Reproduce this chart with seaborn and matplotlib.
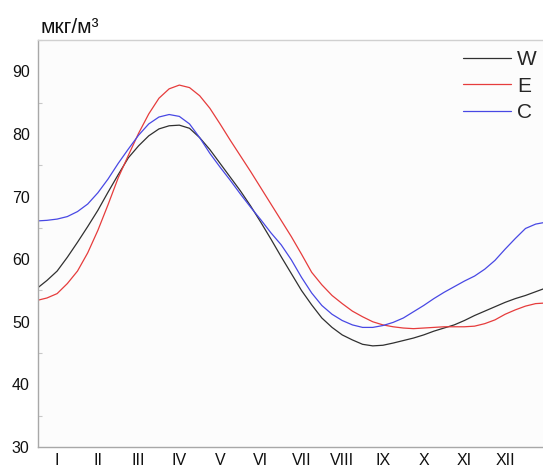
import numpy as np
import pandas as pd
import seaborn as sns
import matplotlib.pyplot as plt
from matplotlib.ticker import MultipleLocator

# month positions (quarter-month steps) and values
months = [0.5, 0.75, 1.0, 1.25, 1.5, 1.75, 2.0, 2.25, 2.5, 2.75, 3.0, 3.25, 3.5, 3.75,
          4.0, 4.25, 4.5, 4.75, 5.0, 5.25, 5.5, 5.75, 6.0, 6.25, 6.5, 6.75,
          7.0, 7.25, 7.5, 7.75, 8.0, 8.25, 8.5, 8.75, 9.0, 9.25, 9.5, 9.75,
          10.0, 10.25, 10.5, 10.75, 11.0, 11.25, 11.5, 11.75, 12.0, 12.25, 12.5, 12.75, 13.0]
w_vals = [55.3, 56.6, 58.1, 60.3, 62.7, 65.2, 67.8, 70.7, 73.5, 76.2, 78.1, 79.7, 80.8, 81.3,
          81.4, 80.9, 79.4, 77.5, 75.3, 73.1, 70.9, 68.5, 65.9, 63.2, 60.4, 57.7,
          55.0, 52.7, 50.6, 49.1, 47.9, 47.1, 46.4, 46.15, 46.25, 46.6, 47.0, 47.4,
          47.9, 48.5, 49.0, 49.5, 50.2, 51.0, 51.7, 52.4, 53.1, 53.7, 54.2, 54.8, 55.4]
e_vals = [53.4, 53.8, 54.5, 56.1, 58.1, 61.0, 64.6, 68.7, 73.0, 76.6, 80.1, 83.2, 85.7, 87.2,
          87.8, 87.4, 86.1, 84.1, 81.6, 79.0, 76.5, 74.0, 71.4, 68.8, 66.2, 63.6,
          60.8, 57.9, 55.9, 54.2, 52.9, 51.7, 50.8, 50.0, 49.5, 49.2, 49.0, 48.9,
          49.0, 49.1, 49.2, 49.2, 49.2, 49.3, 49.7, 50.3, 51.2, 51.9, 52.5, 52.9, 53.0]
c_vals = [66.1, 66.2, 66.4, 66.8, 67.6, 68.8, 70.6, 72.8, 75.3, 77.6, 79.8, 81.6, 82.7, 83.1,
          82.8, 81.6, 79.4, 76.9, 74.7, 72.6, 70.4, 68.3, 66.3, 64.2, 62.3, 59.9,
          57.1, 54.6, 52.6, 51.2, 50.2, 49.5, 49.1, 49.1, 49.4, 49.9, 50.6, 51.6,
          52.6, 53.7, 54.7, 55.6, 56.5, 57.3, 58.4, 59.8, 61.6, 63.3, 64.9, 65.6, 65.9]
series_names = ['W', 'E', 'C']
tick_positions = list(range(1, 13))
tick_labels = ['I', 'II', 'III', 'IV', 'V', 'VI', 'VII', 'VIII', 'IX', 'X', 'XI', 'XII']
colors = {'W': '#303030', 'E': '#e63c3c', 'C': '#4848e4'}

df = pd.DataFrame({
    'month': months * 3,
    'value': w_vals + e_vals + c_vals,
    'series': ['W'] * len(months) + ['E'] * len(months) + ['C'] * len(months),
})

sns.set_theme(style='white')
plt.rcParams['font.family'] = ['Liberation Sans', 'DejaVu Sans']

fig = plt.figure(figsize=(5.43, 4.70), dpi=100)
fig.patch.set_facecolor('white')
ax = fig.add_axes([38 / 543, 23 / 470, 505 / 543, 407 / 470])
ax.set_facecolor('#fcfcfc')

sns.lineplot(data=df, x='month', y='value', hue='series', hue_order=series_names,
             palette=colors, estimator=None, linewidth=0.9, ax=ax, legend=True)

ax.set_xlim(0.53, 12.93)
ax.set_ylim(30, 95)
ax.set_xticks(tick_positions)
ax.set_xticklabels(tick_labels)
ax.yaxis.set_major_locator(MultipleLocator(10))
ax.yaxis.set_minor_locator(MultipleLocator(5))
ax.set_yticks([30, 40, 50, 60, 70, 80, 90])
ax.set_xlabel('')
ax.set_ylabel('')

ax.tick_params(axis='both', which='major', direction='in', length=5, width=0.8,
               color='#b8b8b8', labelsize=11.5, labelcolor='#111111')
ax.tick_params(axis='x', which='major', pad=4)
ax.tick_params(axis='y', which='major', pad=6)
ax.tick_params(axis='y', which='minor', direction='in', length=3, width=0.8, color='#c8c8c8', left=True)

for s in ['left', 'bottom']:
    ax.spines[s].set_color('#a8a8a8')
    ax.spines[s].set_linewidth(1.0)
ax.spines['top'].set_color('#d0d0d0')
ax.spines['top'].set_linewidth(1.0)
ax.spines['right'].set_visible(False)

handles, labels = ax.get_legend_handles_labels()
leg = ax.legend(handles, labels, loc='upper left', bbox_to_anchor=(463 / 543, 1 - 50 / 470),
                bbox_transform=fig.transFigure, frameon=False, fontsize=15,
                handlelength=2.3, handletextpad=0.3, labelspacing=0.36,
                borderpad=0, borderaxespad=0)
for line in leg.get_lines():
    line.set_linewidth(0.9)

fig.text(40 / 543, 1 - 33 / 470, 'мкг/м³', fontsize=15, va='baseline', ha='left', color='#111111')

fig.savefig('out.png', dpi=100)
